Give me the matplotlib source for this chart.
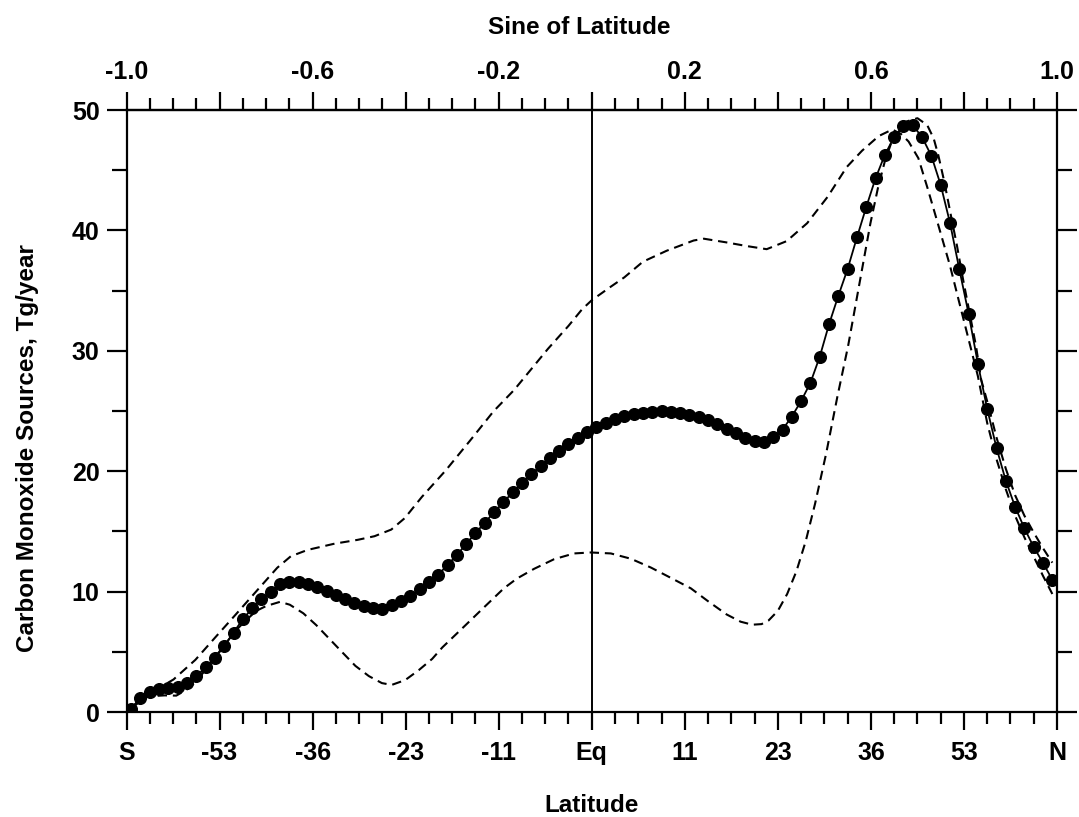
import numpy as np
import matplotlib
matplotlib.use('Agg')
import matplotlib.pyplot as plt
from matplotlib.ticker import FixedLocator, FixedFormatter, MultipleLocator

plt.rcParams['font.family'] = ['Liberation Sans', 'DejaVu Sans']
plt.rcParams['font.weight'] = 'bold'

# ---- data (x in sine of latitude) ----
sine_lat = np.round(np.arange(-0.99, 1.0, 0.02), 2)  # bin centres
co_best = [0.27, 1.17, 1.63, 1.95, 2.0, 2.1, 2.4, 2.95, 3.7, 4.5,
           5.45, 6.6, 7.7, 8.6, 9.4, 10.0, 10.6, 10.8, 10.8, 10.6,
           10.37, 10.06, 9.72, 9.37, 9.08, 8.79, 8.6, 8.57, 8.89, 9.23,
           9.63, 10.18, 10.77, 11.4, 12.21, 13.03, 13.95, 14.85, 15.72, 16.59,
           17.41, 18.25, 19.01, 19.74, 20.42, 21.07, 21.7, 22.26, 22.75, 23.23,
           23.68, 24.0, 24.3, 24.57, 24.75, 24.87, 24.94, 24.98, 24.91, 24.82,
           24.69, 24.48, 24.22, 23.93, 23.53, 23.19, 22.76, 22.47, 22.4, 22.86,
           23.45, 24.54, 25.83, 27.34, 29.5, 32.2, 34.57, 36.8, 39.42, 41.94,
           44.33, 46.28, 47.76, 48.66, 48.73, 47.75, 46.19, 43.78, 40.63, 36.78,
           33.08, 28.92, 25.17, 21.93, 19.21, 17.04, 15.25, 13.7, 12.38, 10.98]

scen_a_x = [-0.99, -0.96, -0.93, -0.899, -0.852, -0.808, -0.764, -0.72, -0.676, -0.647,
            -0.611, -0.553, -0.503, -0.467, -0.431, -0.402, -0.365, -0.314, -0.262, -0.211,
            -0.167, -0.094, -0.05, -0.021, 0.0, 0.04, 0.07, 0.11, 0.161, 0.219,
            0.241, 0.29, 0.333, 0.376, 0.419, 0.463, 0.507, 0.548, 0.581, 0.617,
            0.646, 0.665, 0.681, 0.702, 0.722, 0.743, 0.77, 0.79, 0.81, 0.83,
            0.85, 0.87, 0.89, 0.91, 0.93, 0.95, 0.97, 0.99]
scen_a_y = [0.3, 1.5, 2.0, 2.7, 4.33, 6.25, 8.15, 10.07, 11.98, 12.93,
            13.46, 13.98, 14.3, 14.6, 15.15, 16.1, 17.87, 20.06, 22.52, 24.98,
            26.74, 30.17, 32.07, 33.44, 34.2, 35.3, 36.1, 37.4, 38.31, 39.16,
            39.31, 39.0, 38.7, 38.44, 39.11, 40.6, 42.79, 45.26, 46.62, 47.84,
            48.38, 48.0, 47.38, 46.0, 43.48, 40.69, 37.07, 34.0, 30.95, 27.89,
            24.0, 21.0, 18.5, 16.3, 14.5, 12.9, 11.3, 9.8]

scen_b_x = [-0.99, -0.97, -0.954, -0.918, -0.893, -0.871, -0.849, -0.831, -0.809, -0.787,
            -0.765, -0.744, -0.721, -0.7, -0.67, -0.649, -0.62, -0.592, -0.564, -0.536,
            -0.508, -0.479, -0.451, -0.43, -0.401, -0.372, -0.343, -0.321, -0.277, -0.233,
            -0.189, -0.161, -0.124, -0.081, -0.038, -0.002, 0.041, 0.084, 0.127, 0.17,
            0.213, 0.25, 0.29, 0.32, 0.345, 0.365, 0.38, 0.40, 0.42, 0.44,
            0.46, 0.48, 0.504, 0.528, 0.551, 0.567, 0.583, 0.599, 0.615, 0.63,
            0.645, 0.675, 0.70, 0.721, 0.735, 0.745, 0.758, 0.772, 0.785, 0.798,
            0.812, 0.826, 0.837, 0.85, 0.87, 0.89, 0.91, 0.93, 0.95, 0.97, 0.99]
scen_b_y = [0.3, 0.9, 1.3, 1.38, 1.36, 1.85, 2.54, 3.49, 4.59, 5.68,
            6.77, 7.59, 8.4, 8.8, 9.15, 8.91, 8.2, 7.21, 6.08, 4.95,
            3.83, 2.98, 2.4, 2.25, 2.65, 3.47, 4.41, 5.37, 7.0, 8.64,
            10.27, 11.08, 11.89, 12.69, 13.17, 13.25, 13.17, 12.73, 12.0, 11.14,
            10.27, 9.2, 8.1, 7.5, 7.25, 7.3, 7.6, 8.4, 9.8, 11.7,
            14.2, 17.3, 21.5, 26.2, 30.4, 33.8, 37.2, 40.6, 43.5, 45.75,
            47.41, 49.03, 49.32, 48.75, 47.63, 46.23, 44.0, 41.23, 38.73, 35.95,
            33.16, 30.38, 27.6, 25.8, 22.8, 20.2, 18.0, 16.3, 14.9, 13.6, 12.4]

bottom_tick_pos = [-1.0, -0.8, -0.6, -0.4, -0.2, 0.0, 0.2, 0.4, 0.6, 0.8, 1.0]
bottom_tick_labels = ['S', '-53', '-36', '-23', '-11', 'Eq', '11', '23', '36', '53', 'N']
top_tick_labels = ['-1.0', '', '-0.6', '', '-0.2', '', '0.2', '', '0.6', '', '1.0']
y_ticks = [0, 10, 20, 30, 40, 50]

# ---- figure ----
fig = plt.figure(figsize=(10.79, 8.17), dpi=100)
ax = fig.add_axes([126.5 / 1079, 1 - 712 / 817, (1057 - 126.5) / 1079, (712 - 110) / 817])

ax.plot(scen_a_x, scen_a_y, color='black', lw=1.5, dashes=(4.5, 2.8))
ax.plot(scen_b_x, scen_b_y, color='black', lw=1.5, dashes=(4.5, 2.8))
ax.plot(sine_lat, co_best, color='black', lw=1.3, marker='o', ms=8.4,
        mfc='black', mec='black')
ax.axvline(0.0, color='black', lw=1.4)

ax.set_xlim(-1, 1)
ax.set_ylim(0, 50)

for s in ax.spines.values():
    s.set_linewidth(1.6)

tick_fs = 18
ax.xaxis.set_major_locator(FixedLocator(bottom_tick_pos))
ax.xaxis.set_major_formatter(FixedFormatter(bottom_tick_labels))
ax.xaxis.set_minor_locator(MultipleLocator(0.05))
ax.yaxis.set_major_locator(FixedLocator(y_ticks))
ax.yaxis.set_minor_locator(MultipleLocator(5))
ax.tick_params(axis='x', which='major', direction='out', length=13, width=1.6,
               labelsize=tick_fs, pad=8)
ax.tick_params(axis='x', which='minor', direction='out', length=8.6, width=1.6)
ax.tick_params(axis='y', which='major', direction='out', length=14.4, width=1.6,
               labelsize=tick_fs, pad=5, left=True, right=True)
ax.tick_params(axis='y', which='minor', direction='out', length=10.5, width=1.6,
               left=True, right=True)
for lab in ax.get_xticklabels() + ax.get_yticklabels():
    lab.set_fontweight('bold')

sec = ax.secondary_xaxis('top')
sec.xaxis.set_major_locator(FixedLocator(bottom_tick_pos))
sec.xaxis.set_major_formatter(FixedFormatter(top_tick_labels))
sec.xaxis.set_minor_locator(MultipleLocator(0.05))
sec.tick_params(axis='x', which='major', direction='out', length=13, width=1.6,
                labelsize=tick_fs, pad=6)
sec.tick_params(axis='x', which='minor', direction='out', length=8.6, width=1.6)
sec.spines['top'].set_linewidth(1.6)
for lab in sec.get_xticklabels():
    lab.set_fontweight('bold')

fig.text(579 / 1079, 1 - 28 / 817, 'Sine of Latitude', ha='center', va='center',
         fontsize=17.5, fontweight='bold')
fig.text(592 / 1079, 1 - 805 / 817, 'Latitude', ha='center', va='center',
         fontsize=17.5, fontweight='bold')
fig.text(28 / 1079, 1 - 448 / 817, 'Carbon Monoxide Sources, Tg/year', ha='center',
         va='center', rotation=90, fontsize=17.5, fontweight='bold')

fig.savefig('out.png', dpi=100)
